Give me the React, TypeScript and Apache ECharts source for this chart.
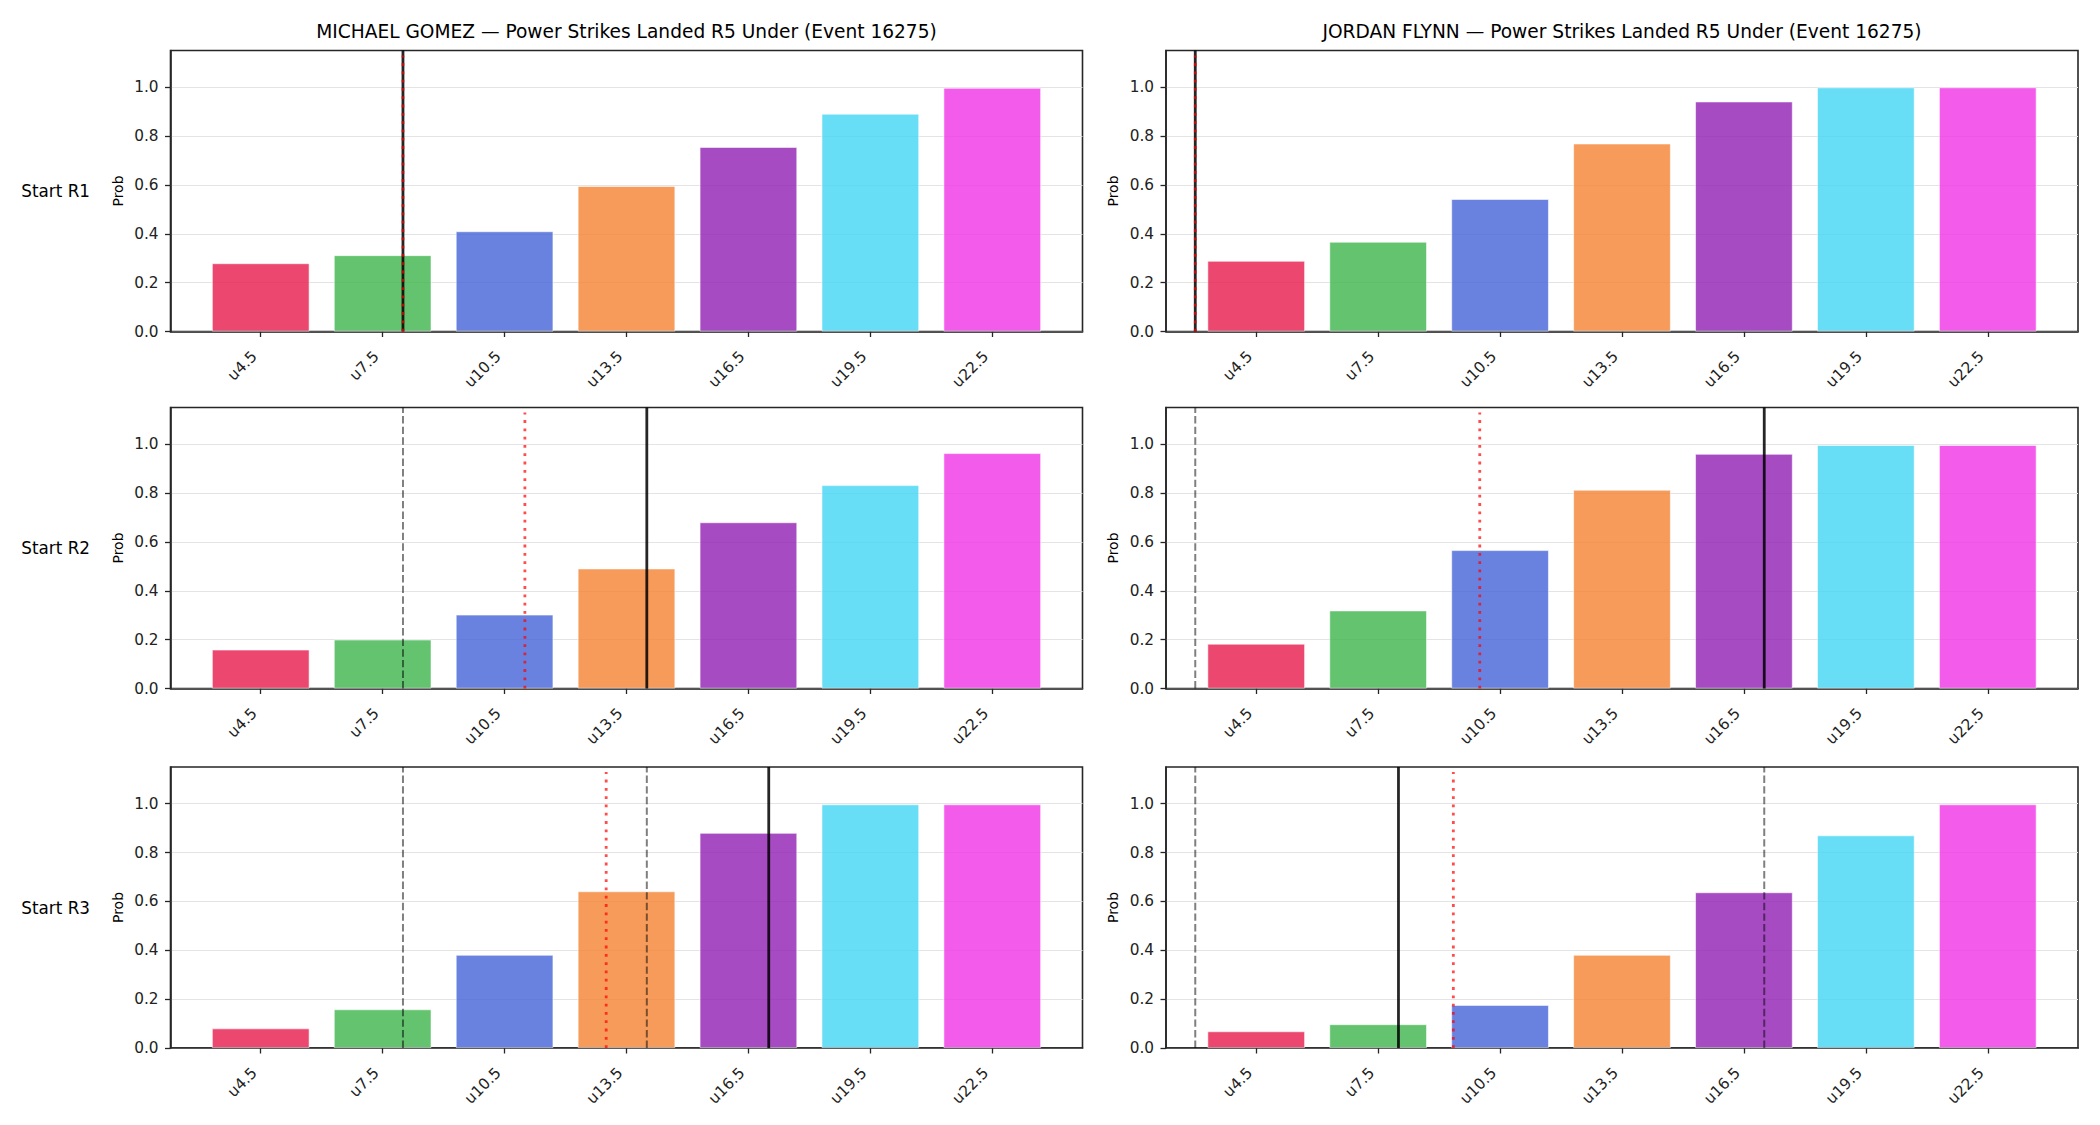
import React, { useEffect, useRef } from 'react';
import * as echarts from 'echarts';

// Strike lines (under thresholds) shown on every panel
const LINES = [4.5, 7.5, 10.5, 13.5, 16.5, 19.5, 22.5];
const FIGHTERS = ['MICHAEL GOMEZ', 'JORDAN FLYNN'];
const ROUND_LABELS = ['Start R1', 'Start R2', 'Start R3'];
const MARKET = 'Power Strikes Landed R5 Under';
const EVENT_ID = 16275;
const Y_TICKS = [0, 0.2, 0.4, 0.6, 0.8, 1.0];

// P(under) per line, by round of entry
const GOMEZ_R1 = [0.279, 0.312, 0.41, 0.595, 0.755, 0.891, 0.997];
const GOMEZ_R2 = [0.159, 0.2, 0.302, 0.491, 0.68, 0.832, 0.963];
const GOMEZ_R3 = [0.08, 0.158, 0.381, 0.641, 0.88, 0.997, 0.997];
const FLYNN_R1 = [0.289, 0.367, 0.542, 0.769, 0.941, 0.999, 0.999];
const FLYNN_R2 = [0.183, 0.319, 0.566, 0.813, 0.96, 0.996, 0.996];
const FLYNN_R3 = [0.068, 0.097, 0.176, 0.381, 0.637, 0.87, 0.997];

// Landed count at the start of each round (solid), projected total (dotted).
// Earlier rounds' starting counts are repeated as dashed guides.
const GOMEZ_START = [8, 14, 17];
const FLYNN_START = [3, 17, 8];
const GOMEZ_PROJ = [8, 11, 13];
const FLYNN_PROJ = [3, 10, 9.35];

const PROBS = [
  [GOMEZ_R1, GOMEZ_R2, GOMEZ_R3],
  [FLYNN_R1, FLYNN_R2, FLYNN_R3],
];
const STARTS = [GOMEZ_START, FLYNN_START];
const PROJS = [GOMEZ_PROJ, FLYNN_PROJ];

const BAR_COLORS = [
  'rgba(230,25,75,0.8)',
  'rgba(60,180,75,0.8)',
  'rgba(67,99,216,0.8)',
  'rgba(245,130,49,0.8)',
  'rgba(145,30,180,0.8)',
  'rgba(66,212,244,0.8)',
  'rgba(240,50,230,0.8)',
];

// layout
const W = 2100;
const H = 1125;
const GRID_LEFT = [170.5, 1166];
const GRID_TOP = [50.5, 407.5, 767];
const GRID_W = 912;
const GRID_H = 281;
const STEP = 3;
const X_MIN = LINES[0] - 0.74 * STEP;
const X_MAX = LINES[LINES.length - 1] + 0.74 * STEP;
const Y_MAX = 1.15;
const BAR_W = (0.8 * STEP * GRID_W) / (X_MAX - X_MIN);
const FONT = 'DejaVu Sans';
const INK = '#262626';

function buildOption() {
  const grid: any[] = [];
  const xAxis: any[] = [];
  const yAxis: any[] = [];
  const series: any[] = [];
  const graphic: any[] = [];

  for (let c = 0; c < 2; c++) {
    graphic.push({
      type: 'text',
      x: GRID_LEFT[c] + GRID_W / 2,
      y: 31.5,
      style: {
        text: `${FIGHTERS[c]} — ${MARKET} (Event ${EVENT_ID})`,
        fontSize: 18.6,
        fontFamily: FONT,
        fill: '#000',
        textAlign: 'center',
        textVerticalAlign: 'middle',
        align: 'center',
        verticalAlign: 'middle',
      },
    });
  }

  for (let r = 0; r < 3; r++) {
    const midY = GRID_TOP[r] + GRID_H / 2;
    graphic.push({
      type: 'text',
      x: 90,
      y: midY,
      style: {
        text: ROUND_LABELS[r],
        fontSize: 16.8,
        fontFamily: FONT,
        fill: '#000',
        textAlign: 'right',
        textVerticalAlign: 'middle',
        align: 'right',
        verticalAlign: 'middle',
      },
    });

    for (let c = 0; c < 2; c++) {
      const i = r * 2 + c;
      graphic.push({
        type: 'text',
        x: GRID_LEFT[c] - 53,
        y: midY,
        rotation: Math.PI / 2,
        style: {
          text: 'Prob',
          fontSize: 14,
          fontFamily: FONT,
          fill: '#000',
          textAlign: 'center',
          textVerticalAlign: 'middle',
          align: 'center',
          verticalAlign: 'middle',
        },
      });

      grid.push({
        left: GRID_LEFT[c],
        top: GRID_TOP[r],
        width: GRID_W,
        height: GRID_H,
        show: true,
        borderColor: INK,
        borderWidth: 1.6,
        backgroundColor: 'transparent',
        containLabel: false,
      });

      xAxis.push({
        type: 'value',
        gridIndex: i,
        min: X_MIN,
        max: X_MAX,
        axisLine: { show: true, onZero: false, lineStyle: { color: INK, width: 1.6 } },
        axisTick: {
          show: true,
          customValues: LINES,
          length: 5.5,
          lineStyle: { color: INK, width: 1.3 },
        },
        axisLabel: {
          customValues: LINES,
          formatter: (v: number) => `u${v}`,
          rotate: 45,
          margin: 16,
          padding: [0, 9, 0, 0],
          fontSize: 15.3,
          fontFamily: FONT,
          color: '#222',
        },
        splitLine: { show: false },
      });

      yAxis.push({
        type: 'value',
        gridIndex: i,
        min: 0,
        max: Y_MAX,
        interval: 0.2,
        axisLine: { show: true, lineStyle: { color: INK, width: 1.6 } },
        axisTick: {
          show: true,
          customValues: Y_TICKS,
          length: 5.5,
          lineStyle: { color: INK, width: 1.3 },
        },
        axisLabel: {
          customValues: Y_TICKS,
          formatter: (v: number) => (v > 1.001 ? '' : v.toFixed(1)),
          margin: 12,
          fontSize: 15.3,
          fontFamily: FONT,
          color: '#222',
        },
        splitLine: { show: true, lineStyle: { color: '#e4e4e4', width: 1 } },
      });

      const probs = PROBS[c][r];
      series.push({
        type: 'bar',
        xAxisIndex: i,
        yAxisIndex: i,
        barWidth: BAR_W,
        z: 2,
        silent: true,
        itemStyle: { borderColor: 'rgba(255,255,255,0.7)', borderWidth: 0.8 },
        data: LINES.map((x, j) => ({
          value: [x, probs[j]],
          itemStyle: { color: BAR_COLORS[j] },
        })),
      });

      // dashed guides for earlier rounds' starting counts
      for (let p = 0; p < r; p++) {
        const x = STARTS[c][p];
        series.push({
          type: 'line',
          xAxisIndex: i,
          yAxisIndex: i,
          z: 3,
          silent: true,
          symbol: 'none',
          lineStyle: { color: 'rgba(0,0,0,0.5)', width: 2, type: [7.4, 3.2] },
          data: [
            [x, 0],
            [x, Y_MAX],
          ],
        });
      }

      const s = STARTS[c][r];
      series.push({
        type: 'line',
        xAxisIndex: i,
        yAxisIndex: i,
        z: 4,
        silent: true,
        symbol: 'none',
        lineStyle: { color: 'rgba(0,0,0,0.85)', width: 2.8, type: 'solid' },
        data: [
          [s, 0],
          [s, Y_MAX],
        ],
      });

      const pr = PROJS[c][r];
      series.push({
        type: 'line',
        xAxisIndex: i,
        yAxisIndex: i,
        z: 5,
        silent: true,
        symbol: 'none',
        lineStyle: { color: 'rgba(255,0,0,0.7)', width: 2.8, type: [2.8, 5.5] },
        data: [
          [pr, 0],
          [pr, 1.13],
        ],
      });
    }
  }

  return {
    animation: false,
    backgroundColor: '#ffffff',
    grid,
    xAxis,
    yAxis,
    series,
    graphic,
  };
}

export default function App() {
  const ref = useRef<HTMLDivElement>(null);

  useEffect(() => {
    if (!ref.current) return;
    const chart = echarts.init(ref.current, undefined, { renderer: 'svg' });
    chart.setOption(buildOption());
    return () => chart.dispose();
  }, []);

  return (
    <div
      ref={ref}
      style={{ position: 'fixed', left: 0, top: 0, width: W, height: H, background: '#fff' }}
    />
  );
}
